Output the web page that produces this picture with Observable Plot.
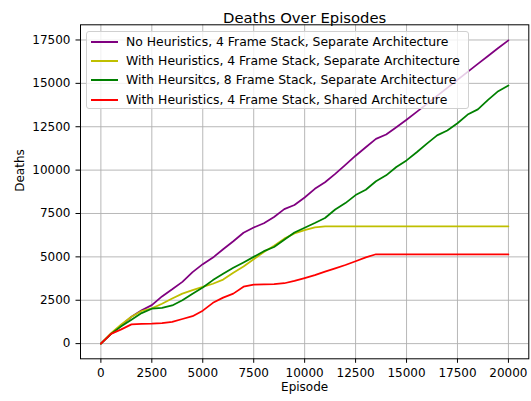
<!DOCTYPE html>
<html>
<head>
<meta charset="utf-8">
<script src="https://cdn.jsdelivr.net/npm/d3@7"></script>
<script src="https://cdn.jsdelivr.net/npm/@observablehq/plot@0.6"></script>
<style>
  html, body { margin: 0; padding: 0; background: #fff; }
  #wrap { position: relative; width: 531px; height: 401px; font-family: "DejaVu Sans", sans-serif; }
  #legend {
    position: absolute; left: 86px; top: 31px; width: 383px; height: 78px;
    background: rgba(255,255,255,0.8); border: 1px solid #d0d0d0; border-radius: 3px;
    box-sizing: border-box;
  }
  .row { position: absolute; left: 0; width: 380px; height: 19px; font-size: 12.4px; color: #000; white-space: nowrap; }
  .row .sw { position: absolute; left: 4px; width: 27px; height: 2px; top: 8px; }
  .row .lb { position: absolute; left: 39px; top: 1px; line-height: 16px; }
</style>
</head>
<body>
<div id="wrap"><div id="legend"></div></div>
<script>
const title = "Deaths Over Episodes";
const xLabel = "Episode";
const yLabel = "Deaths";

const seriesNames = [
  "No Heuristics, 4 Frame Stack, Separate Architecture",
  "With Heuristics, 4 Frame Stack, Separate Architecture",
  "With Heursitcs, 8 Frame Stack, Separate Architecture",
  "With Heuristics, 4 Frame Stack, Shared Architecture"
];
const seriesColors = ["#800080", "#bfbf00", "#008000", "#ff0000"];

const xTicks = [0, 2500, 5000, 7500, 10000, 12500, 15000, 17500, 20000];
const yTicks = [0, 2500, 5000, 7500, 10000, 12500, 15000, 17500];

const episodes = [0, 500, 1000, 1500, 2000, 2500, 3000, 3500, 4000, 4500, 5000, 5500, 6000, 6500, 7000, 7500, 8000, 8500, 9000, 9500, 10000, 10500, 11000, 11500, 12000, 12500, 13000, 13500, 14000, 14500, 15000, 15500, 16000, 16500, 17000, 17500, 18000, 18500, 19000, 19500, 20000];

const noHeur4Sep = [0, 560, 1050, 1550, 1920, 2220, 2720, 3130, 3560, 4120, 4580, 4960, 5440, 5900, 6390, 6690, 6940, 7300, 7750, 7990, 8420, 8920, 9300, 9780, 10300, 10830, 11320, 11800, 12050, 12470, 12900, 13360, 13820, 14280, 14740, 15200, 15660, 16120, 16580, 17040, 17480];

const heur4Sep = [0, 600, 1100, 1550, 1880, 2030, 2300, 2600, 2880, 3080, 3270, 3450, 3690, 4080, 4440, 4860, 5280, 5640, 6050, 6350, 6540, 6700, 6760, 6760, 6760, 6760, 6760, 6760, 6760, 6760, 6760, 6760, 6760, 6760, 6760, 6760, 6760, 6760, 6760, 6760, 6760];

const heur8Sep = [0, 560, 1000, 1380, 1760, 2010, 2060, 2200, 2500, 2880, 3230, 3660, 4020, 4370, 4680, 5000, 5330, 5570, 5990, 6400, 6680, 6950, 7240, 7730, 8100, 8560, 8870, 9360, 9700, 10180, 10560, 11030, 11530, 12000, 12280, 12700, 13200, 13500, 14050, 14550, 14880];

const heur4Shared = [0, 560, 820, 1110, 1140, 1150, 1180, 1250, 1420, 1580, 1900, 2350, 2650, 2880, 3280, 3400, 3420, 3430, 3480, 3620, 3780, 3950, 4150, 4340, 4530, 4750, 4970, 5150, 5150, 5150, 5150, 5150, 5150, 5150, 5150, 5150, 5150, 5150, 5150, 5150, 5150];

const seriesValues = [noHeur4Sep, heur4Sep, heur8Sep, heur4Shared];

const rows = [];
seriesValues.forEach((vals, i) => {
  vals.forEach((v, j) => rows.push({episode: episodes[j], deaths: v, series: seriesNames[i]}));
});

const plot = Plot.plot({
  width: 531,
  height: 401,
  marginTop: 24.3,
  marginBottom: 42.7,
  marginLeft: 80,
  marginRight: 2.7,
  style: {fontFamily: "DejaVu Sans, sans-serif", fontSize: "12px", color: "#000", background: "#fff"},
  x: {domain: [-1000, 21000], ticks: xTicks, tickFormat: d => String(d), tickSize: 4.5, tickPadding: 5, label: null},
  y: {domain: [-875, 18375], ticks: yTicks, tickFormat: d => String(d), tickSize: 4.5, tickPadding: 5.5, label: null},
  color: {domain: seriesNames, range: seriesColors},
  marks: [
    Plot.ruleX(xTicks, {x: d => d, stroke: "#b0b0b0", strokeWidth: 0.9}),
    Plot.ruleY(yTicks, {y: d => d, stroke: "#b0b0b0", strokeWidth: 0.9}),
    Plot.line(rows, {x: "episode", y: "deaths", z: "series", stroke: "series", strokeWidth: 1.75, strokeLinejoin: "round"}),
    Plot.frame({stroke: "#000", strokeWidth: 1}),
    Plot.text([title], {text: d => d, frameAnchor: "top", dy: -12.5, fontSize: 14.8}),
    Plot.text([xLabel], {text: d => d, frameAnchor: "bottom", dy: 32, fontSize: 12}),
    Plot.text([yLabel], {text: d => d, frameAnchor: "left", dx: -60, rotate: -90, fontSize: 12})
  ]
});
document.getElementById("wrap").prepend(plot);

const legend = document.getElementById("legend");
seriesNames.forEach((name, i) => {
  const row = document.createElement("div");
  row.className = "row";
  row.style.top = (1 + i * 19.2) + "px";
  const sw = document.createElement("div");
  sw.className = "sw";
  sw.style.background = seriesColors[i];
  const lb = document.createElement("div");
  lb.className = "lb";
  lb.textContent = name;
  row.appendChild(sw);
  row.appendChild(lb);
  legend.appendChild(row);
});
</script>
</body>
</html>
